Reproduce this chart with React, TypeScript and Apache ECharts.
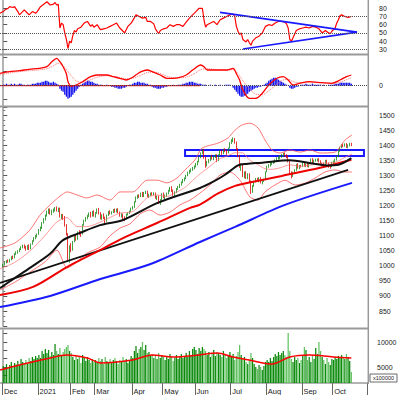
import React, { useEffect, useRef } from 'react';
import * as echarts from 'echarts';

// ---------- x axis (trading-day index) ----------
const monthTickIdx = [-0.5, 21.5, 41.5, 56.5, 79.5, 98.5, 118.5, 140.5, 162.5, 184.5, 203.5, 225];
const monthLabels = ['Dec', '2021', 'Feb', 'Mar', 'Apr', 'May', 'Jun', 'Jul', 'Aug', 'Sep', 'Oct', ''];

// ---------- price candles [open, close, low, high], one per trading day ----------
const candles = [
  [998,1003,994,1006],[1004,1010,1001,1013],[1011,1017,1008,1019],[1018,1015,1010,1021],[1015,1020,1011,1023],[1021,1030,1018,1032],
  [1031,1026,1022,1034],[1027,1040,1025,1042],[1041,1044,1036,1048],[1045,1049,1040,1052],[1050,1055,1046,1058],[1056,1062,1052,1065],
  [1063,1067,1058,1070],[1068,1063,1057,1071],[1062,1057,1050,1066],[1056,1067,1053,1069],[1068,1058,1052,1071],[1057,1072,1055,1074],
  [1073,1082,1070,1085],[1083,1092,1080,1095],[1093,1098,1088,1102],[1099,1103,1094,1107],
  [1105,1120,1103,1122],[1121,1125,1115,1130],[1126,1143,1122,1145],[1144,1156,1140,1158],[1157,1167,1150,1170],[1168,1180,1163,1183],
  [1181,1186,1172,1190],[1187,1176,1170,1190],[1175,1183,1168,1186],[1184,1185,1176,1190],[1186,1192,1180,1195],[1193,1185,1180,1197],
  [1184,1190,1178,1193],[1191,1166,1160,1193],[1165,1167,1155,1172],[1168,1162,1152,1172],[1160,1135,1130,1165],[1133,1107,1100,1138],
  [1105,1023,1018,1108],[1020,1066,1010,1068],
  [1068,1056,1045,1075],[1055,1080,1050,1082],[1082,1098,1078,1100],[1099,1088,1083,1104],[1089,1112,1086,1114],[1113,1110,1102,1118],
  [1111,1103,1096,1115],[1106,1136,1104,1138],[1137,1151,1133,1153],[1152,1159,1146,1162],[1160,1166,1154,1169],[1167,1174,1162,1177],
  [1175,1165,1160,1179],[1166,1180,1163,1182],[1181,1168,1163,1184],
  [1167,1175,1160,1178],[1176,1188,1172,1190],[1189,1175,1170,1192],[1174,1160,1154,1178],[1159,1169,1152,1171],[1170,1160,1155,1174],
  [1159,1152,1140,1163],[1150,1168,1146,1170],[1169,1179,1165,1182],[1180,1176,1170,1184],[1175,1178,1170,1181],[1179,1185,1175,1188],
  [1186,1180,1176,1190],[1181,1187,1177,1190],[1188,1178,1174,1191],[1177,1168,1163,1180],[1167,1170,1160,1174],[1171,1160,1155,1173],
  [1159,1158,1148,1164],[1157,1171,1154,1173],[1172,1175,1167,1178],[1176,1180,1172,1183],[1181,1191,1178,1193],
  [1192,1193,1186,1198],[1194,1212,1192,1214],[1213,1228,1210,1230],[1229,1232,1222,1236],[1233,1231,1225,1237],[1232,1240,1228,1243],
  [1241,1232,1228,1245],[1231,1242,1228,1245],[1243,1245,1238,1249],[1246,1232,1228,1249],[1231,1236,1225,1239],[1237,1240,1232,1243],
  [1241,1238,1233,1244],[1237,1240,1233,1244],[1241,1226,1222,1243],[1225,1230,1218,1233],[1231,1210,1205,1233],[1209,1218,1202,1221],
  [1219,1239,1216,1241],
  [1240,1229,1224,1243],[1228,1233,1220,1236],[1234,1240,1229,1243],[1241,1249,1237,1252],[1250,1260,1246,1262],[1261,1250,1245,1264],
  [1249,1240,1232,1253],[1239,1244,1230,1247],[1245,1256,1241,1258],[1257,1262,1252,1265],[1263,1270,1258,1272],[1271,1278,1266,1280],
  [1279,1285,1274,1288],[1286,1290,1280,1293],[1291,1300,1287,1302],[1301,1310,1297,1312],[1311,1315,1305,1318],[1316,1320,1310,1323],
  [1321,1325,1315,1328],[1326,1330,1320,1333],
  [1331,1338,1326,1341],[1339,1345,1333,1348],[1346,1360,1343,1362],[1361,1374,1357,1376],[1375,1383,1370,1386],[1384,1360,1355,1388],
  [1358,1336,1325,1362],[1337,1345,1330,1348],[1346,1350,1340,1354],[1351,1363,1347,1365],[1364,1357,1352,1368],[1356,1362,1350,1365],
  [1363,1366,1357,1370],[1367,1349,1344,1370],[1350,1368,1347,1370],[1369,1380,1365,1383],[1381,1374,1368,1385],[1375,1385,1370,1388],
  [1386,1383,1377,1390],[1382,1375,1368,1386],[1376,1390,1373,1392],[1391,1408,1389,1410],
  [1409,1415,1404,1420],[1416,1420,1410,1426],[1421,1410,1405,1424],[1409,1388,1383,1412],[1387,1367,1360,1390],[1366,1330,1325,1368],
  [1329,1335,1315,1340],[1334,1298,1294,1338],[1297,1310,1290,1313],[1311,1294,1288,1314],[1293,1304,1287,1307],[1305,1282,1277,1307],
  [1281,1250,1238,1283],[1248,1265,1242,1268],[1266,1280,1262,1282],[1281,1288,1276,1291],[1289,1283,1278,1292],[1282,1291,1277,1294],
  [1292,1278,1273,1294],[1277,1283,1270,1286],[1284,1285,1278,1289],[1286,1311,1284,1313],
  [1312,1330,1310,1332],[1331,1333,1325,1337],[1334,1338,1329,1341],[1339,1342,1334,1346],[1343,1345,1338,1349],[1346,1350,1340,1353],
  [1351,1357,1347,1360],[1358,1358,1352,1362],[1359,1362,1353,1366],[1363,1367,1358,1371],[1368,1371,1362,1375],[1372,1367,1361,1376],
  [1366,1363,1357,1370],[1364,1348,1343,1366],[1347,1310,1305,1350],[1309,1302,1290,1313],[1301,1310,1295,1312],[1311,1317,1306,1320],
  [1318,1336,1315,1338],[1337,1326,1322,1340],[1325,1331,1320,1334],[1332,1331,1326,1335],
  [1332,1339,1328,1342],[1340,1333,1329,1343],[1332,1337,1327,1340],[1338,1331,1327,1341],[1330,1341,1326,1344],[1342,1353,1339,1356],
  [1354,1345,1340,1357],[1344,1349,1339,1352],[1350,1351,1345,1355],[1352,1352,1346,1356],[1353,1348,1343,1357],[1347,1339,1334,1350],
  [1338,1338,1331,1342],[1339,1338,1332,1342],[1339,1348,1335,1351],[1349,1340,1336,1352],[1339,1331,1325,1342],[1330,1330,1322,1335],
  [1331,1342,1327,1345],
  [1343,1345,1338,1349],[1346,1352,1341,1355],[1353,1362,1349,1365],[1363,1380,1360,1382],[1381,1393,1378,1395],[1394,1400,1390,1403],
  [1401,1398,1393,1405],[1399,1402,1395,1406],[1403,1396,1391,1407],[1395,1400,1390,1403],[1401,1404,1396,1408],[1405,1402,1397,1408],
];

// ---------- volume (axis unit x100000), one per trading day ----------
const volumes = [
  5200,4800,5600,5000,5400,6000,5200,5800,5500,6200,5400,6600,6000,5800,6400,5600,6800,6200,7000,6600,7200,6800,
  7400,6800,8200,7600,8600,7800,8400,7200,8000,7400,9600,8200,7600,8800,7400,8000,8600,9000,9400,8200,
  7800,7000,6400,7200,6600,7000,5800,7400,6800,6200,7000,6400,5800,6600,6000,
  6400,5800,6800,6200,6600,5600,7000,6200,6000,6600,5800,6400,6800,6200,5600,6400,6000,7000,6200,6600,5800,6400,7200,
  6800,8200,9200,7800,8600,9000,10000,8400,9400,7800,8000,7200,7600,6800,7400,6600,7800,6800,7400,
  7000,6400,7200,6600,7600,7000,6200,6800,7400,6600,7000,7600,6800,7200,7800,7000,8200,7400,8600,9000,
  8400,7600,8800,8200,9000,8600,8200,7400,8000,7000,7600,8400,7200,8000,7800,7400,7000,8200,7600,6800,7200,8000,
  7000,7600,6400,7200,8000,9400,7400,6800,7000,6000,5600,6400,7800,6800,5600,5000,4600,5400,5000,4400,5200,6000,
  6400,6000,6800,6200,7000,7600,7200,8000,7400,7800,8200,7400,7000,11800,8200,6600,6000,7000,6400,6800,5800,6400,
  7200,9000,8400,6400,7000,6000,7400,6600,8800,7600,10000,8200,7000,6400,5600,6800,6000,5400,6600,
  6400,7000,6600,7200,6800,7400,7000,6600,7600,7000,6200,4000,
];
const volumeMA = [[-2,4400],[10,5400],[29,6800],[39,7400],[52,6800],[60,5800],[80,6400],[92,7400],[105,7000],[121,7400],
  [132,7800],[142,7000],[152,6400],[166,5600],[177,7000],[189,7400],[204,7000],[215,6800]];

// ---------- price overlays [index, price] ----------
const ma200 = [[-2,863],[29,900],[60,956],[90.6,1005],[121.5,1079],[143.2,1129],[174,1202],[215.4,1275]];
const ma100 = [[-2,903],[18.4,930],[39.4,996],[59.8,1052],[74,1092],[95,1142],[115.4,1192],[121.5,1203],[132.7,1240],
  [143.2,1265],[153.7,1278],[172,1298],[195.7,1325],[215,1352]];
const ma50 = [[-2,926],[7.3,960],[16.5,993],[28.9,1040],[36.9,1085],[47.4,1109],[59.8,1135],[74,1152],[95,1208],
  [121.5,1258],[130,1280],[137,1302],[145,1333],[150,1338],[160,1342],[177,1350],[190,1340],[200,1333],[207,1335],[215,1357]];
const trendLine = [[-2,943],[213,1318]];
const bbUpper = [[-2,1059],[7.3,1076],[16.5,1119],[22.7,1168],[28.9,1202],[35.1,1231],[39.4,1245],[45.6,1235],[51.7,1225],
  [57.9,1235],[65.9,1218],[72.1,1245],[80.1,1245],[88.8,1284],[95,1284],[101.1,1275],[107.3,1291],[112.3,1318],[118.4,1351],
  [122.8,1390],[132.7,1407],[138.8,1424],[143.2,1450],[147.5,1467],[152.4,1473],[157.4,1457],[161.7,1417],[166,1384],[171,1374],
  [177.1,1384],[183.3,1377],[189.5,1384],[195.7,1374],[204.9,1377],[211.1,1417],[215.4,1434]];
const bbLower = [[-2,920],[7.3,946],[16.5,979],[25.8,1013],[33.2,1052],[39.4,993],[45.6,1013],[51.7,1042],[59.8,1062],
  [65.9,1099],[72.1,1125],[78.3,1139],[84.5,1172],[90.6,1185],[96.8,1168],[103,1178],[109.2,1202],[115.4,1218],[121.5,1241],
  [127.7,1268],[133.9,1301],[140.1,1311],[146.2,1284],[152.4,1228],[157.4,1218],[161.7,1245],[167.9,1268],[174,1284],
  [180.2,1268],[186.4,1274],[192.6,1291],[198.7,1311],[204.9,1318],[211.1,1311],[215.4,1311]];
const bbMid = [[-2,990],[7,1011],[16.5,1049],[25.8,1100],[33,1145],[39.4,1160],[45.6,1130],[51.7,1130],[57.9,1140],
  [65.9,1160],[72.1,1175],[80.1,1180],[88.8,1225],[95,1235],[101.1,1230],[107.3,1245],[112.3,1260],[118.4,1290],[122.8,1310],
  [127.7,1330],[132.7,1352],[138.8,1365],[143.2,1375],[147.5,1375],[152.4,1350],[157.4,1335],[161.7,1322],[166,1320],
  [171,1325],[177.1,1335],[183.3,1330],[189.5,1334],[195.7,1340],[204.9,1343],[211.1,1360],[215.4,1370]];
const resistanceZone = { from: 112.3, to: 222.8, low: 1364, high: 1384 };

// ---------- RSI ----------
const rsi = [[-2,74],[0,76],[1,78],[3,80],[4,82],[6,81],[7,82],[9,76],[10,72],[12,76],[13,78],[15,74],[16,72],[18,76],[20,74],
  [21,76],[23,82],[25,85],[27,88],[29,84],[31,85],[32,87],[33,84],[34,85],[35,56],[36,62],[37,60],[38,50],[39,42],[40,31],[41,40],
  [42,38],[43,47],[44,53],[45,51],[46,55],[48,57],[50,62],[52,64],[54,58],[55,60],[56,57],[58,60],[60,54],[62,55],[64,56],[66,58],
  [68,60],[70,62],[72,56],[74,52],[75,50],[77,58],[79,62],[80,65],[82,72],[84,70],[86,68],[88,69],[89,64],[91,64],[93,61],[94,55],
  [96,49],[97,53],[99,55],[101,56],[103,60],[105,58],[107,60],[109,60],[111,58],[113,63],[115,68],[117,72],[119,76],[121,80],
  [123,80],[124,66],[125,57],[126,60],[128,62],[130,64],[132,60],[134,66],[136,68],[138,70],[140,72],[142,73],[143,70],[144,58],
  [145,52],[146,48],[147,50],[148,42],[150,39],[151,42],[152,38],[153,35],[154,40],[156,44],[158,46],[160,50],[162,58],[164,60],
  [166,59],[168,62],[170,64],[172,64],[174,63],[175,61],[176,56],[177,42],[178,40],[179,44],[181,53],[183,55],[185,56],[187,57],
  [189,56],[191,58],[193,57],[195,55],[197,50],[199,53],[201,50],[202,49],[203,52],[205,56],[206,62],[207,66],[208,71],[209,72],
  [211,70],[213,69],[215,70]];
const rsiTriUpper = [[133.9,75],[218.5,51]];
const rsiTriLower = [[148.1,30.4],[218.5,51]];
const rsiLevels = [70, 50, 30];
const rsiTicks = [30, 40, 50, 60, 70, 80];

// ---------- MACD ----------
const macdLine = [[-2,12.4],[4,14],[10,15],[16,16.4],[22,17.4],[27,19],[30,24],[33,27.4],[35,24],[37,19],[39,12],[40,4],[42,-0.3],
  [45,0.7],[49,4],[54,9],[58,10.7],[64,10.7],[68,9],[72,7.4],[76,5.7],[80,8.5],[83,12],[86,14.5],[89,15.7],[92,14],[97,10.7],
  [101,7.4],[105,7.4],[109,8.4],[113,10.7],[117,15.7],[122,20.7],[124,19],[126,15.7],[132,15.7],[138,15.7],[142,17.4],[144,12],
  [146,5.7],[148,-4.3],[152,-12.6],[156,-12.6],[160,-7.6],[164,0.7],[169,7.4],[173,9],[176,5.7],[179,0.7],[183,2.4],[189,4],
  [197,3],[203,2.4],[208,5.7],[212,9],[215,10.7]];
const macdSignal = [[-2,11],[5,13],[12,14.5],[20,15.5],[27,17],[31,20],[34,22.5],[37,20],[40,14],[43,8],[46,4],[50,3.5],[54,6],
  [58,8.5],[64,10],[70,9],[76,7],[80,7.5],[85,10.5],[90,13.5],[94,13.5],[98,11.5],[102,9],[106,8],[110,8],[114,9],[118,12],
  [122,16],[126,17],[132,16],[138,15.5],[142,16],[145,12],[148,5],[152,-3],[156,-8.5],[160,-9],[164,-5],[168,0],[172,5],
  [176,6.5],[179,4],[183,3],[189,3],[197,3],[203,2.5],[208,3.5],[212,6],[215,8]];
const macdHist = [
  1,1,2,1,1,2,1,2,1,1,2,2,1,1,0,1,
  1,1,2,2,2,3,
  3,3,4,4,5,5,4,3,3,4,
  3,2,1,
  -3,-5,-6,-9,-11,-13,-12,-11,-9,-7,-5,-3,-1,
  1,2,3,4,5,5,4,4,3,2,2,1,1,
  1,0,0,1,0,0,-1,
  -1,-2,-2,-3,-3,-3,-2,-2,-1,0,
  1,1,2,3,3,4,4,3,3,3,2,2,1,1,
  -1,-2,-2,-3,-3,-3,-2,-2,-1,-1,0,
  0,0,1,0,0,1,1,1,2,
  2,3,3,4,4,4,3,3,2,2,2,1,1,1,
  0,0,1,0,0,1,0,0,1,0,0,1,1,1,1,
  0,-2,-4,-6,-8,-10,-11,-11,-10,-9,-8,-6,-5,-4,-3,-2,-2,-1,-1,0,
  1,2,3,5,6,7,8,8,7,6,5,4,3,2,1,0,
  -2,-3,-3,-2,-1,-1,
  0,1,1,1,2,1,1,1,2,1,1,1,1,1,0,1,0,0,1,1,1,1,2,2,2,
  3,3,3,3,3,3,3,2,
];
const macdZeroRed = [[-2,0],[121.5,0]];

const FONT = '"Liberation Sans", Arial, sans-serif';
const AXIS_GREY = '#9a9a9a';
const plain = (v: number) => String(v);

export default function App() {
  const ref = useRef<HTMLDivElement>(null);

  useEffect(() => {
    if (!ref.current) return;
    const chart = echarts.init(ref.current, undefined, { renderer: 'svg' });

    const grids = [
      { left: 0, right: 32, top: 0, height: 54 },
      { left: 0, right: 32, top: 55, height: 51 },
      { left: 0, right: 32, top: 107.5, height: 218.6 },
      { left: 0, right: 32, top: 330, height: 53 },
    ];

    const xAxes = grids.map((_, gi) => ({
      type: 'value',
      gridIndex: gi,
      min: -2,
      max: 225.3,
      show: gi === 3,
      splitLine: { show: false },
      axisLine: { show: gi === 3, lineStyle: { color: AXIS_GREY, width: 1.5 } },
      axisTick: {
        show: gi === 3,
        customValues: monthTickIdx,
        length: 12,
        lineStyle: { color: '#666', width: 1 },
      },
      axisLabel: {
        show: gi === 3,
        customValues: monthTickIdx,
        formatter: (v: number) => {
          const k = monthTickIdx.indexOf(v);
          return k >= 0 ? monthLabels[k] : '';
        },
        align: 'left',
        padding: [0, 0, 0, 1.5],
        margin: 4,
        fontSize: 7.5,
        color: '#222',
        fontFamily: FONT,
      },
    }));

    const label = (extra: any = {}) => ({ margin: 11, fontSize: 7, color: '#222', fontFamily: FONT, formatter: plain, ...extra });
    const tick = (extra: any = {}) => ({ show: true, length: 4, lineStyle: { color: '#555' }, ...extra });
    const baseY = (gi: number) => ({
      type: 'value',
      gridIndex: gi,
      position: 'right',
      splitLine: { show: false },
      axisLine: { show: true, lineStyle: { color: AXIS_GREY, width: 1.5 } },
    });

    const yAxes = [
      { ...baseY(0), min: 24.3, max: 90.1, axisTick: tick({ customValues: rsiTicks }), axisLabel: label({ customValues: rsiTicks }) },
      { ...baseY(1), min: -20.3, max: 30.7, axisTick: tick({ customValues: [-14, 0, 14, 28] }), axisLabel: label({ customValues: [0] }) },
      {
        ...baseY(2), min: 800, max: 1525, interval: 50,
        axisTick: tick(),
        minorTick: { show: true, splitNumber: 3, length: 2, lineStyle: { color: '#777' } },
        axisLabel: label({ showMinLabel: false, showMaxLabel: false }),
      },
      {
        ...baseY(3), min: 1800, max: 12400,
        axisTick: tick({ customValues: [3333, 5000, 6667, 8333, 10000, 11667] }),
        axisLabel: label({ margin: 9, customValues: [5000, 10000] }),
      },
    ];

    const line = (name: string, gi: number, data: number[][], color: string, width: number, extra: any = {}) => ({
      name,
      type: 'line',
      xAxisIndex: gi,
      yAxisIndex: gi,
      data,
      showSymbol: false,
      symbol: 'none',
      silent: true,
      lineStyle: { color, width, ...(extra.lineStyle || {}) },
      itemStyle: { color },
      ...Object.fromEntries(Object.entries(extra).filter(([k]) => k !== 'lineStyle')),
    });

    const series: any[] = [
      // RSI
      line('RSI', 0, rsi, '#ff0000', 1.2, {
        markLine: {
          silent: true, symbol: 'none', label: { show: false },
          lineStyle: { type: 'dotted', color: '#555', width: 1 },
          data: rsiLevels.map((v) => ({ yAxis: v })),
        },
      }),
      line('RSI trend upper', 0, rsiTriUpper, '#1a1aff', 1.6),
      line('RSI trend lower', 0, rsiTriLower, '#1a1aff', 1.6),
      // MACD
      {
        name: 'MACD hist', type: 'bar', xAxisIndex: 1, yAxisIndex: 1, silent: true,
        data: macdHist.map((v, i) => [i, v]),
        barWidth: 1.3,
        itemStyle: { color: '#1010ee' },
        markLine: {
          silent: true, symbol: 'none', label: { show: false },
          lineStyle: { type: 'dotted', color: '#444', width: 1 },
          data: [{ yAxis: 0 }],
        },
      },
      line('MACD zero', 1, macdZeroRed, '#ff0000', 1),
      line('Signal', 1, macdSignal, '#ff7070', 1, { smooth: 0.3, lineStyle: { type: 'dotted' } }),
      line('MACD', 1, macdLine, '#ff0000', 1.3, { smooth: 0.3 }),
      // Price
      line('MA200', 2, ma200, '#1a1aff', 2, { smooth: 0.3 }),
      line('BB upper', 2, bbUpper, '#ff5050', 0.8, { smooth: 0.25 }),
      line('BB lower', 2, bbLower, '#ff5050', 0.8, { smooth: 0.25 }),
      line('BB mid', 2, bbMid, '#ff7070', 0.7, { smooth: 0.25 }),
      line('Trend', 2, trendLine, '#111111', 1.8, {
        markArea: {
          silent: true,
          itemStyle: { color: 'rgba(0,0,0,0)', borderColor: '#1a1aff', borderWidth: 2 },
          data: [[
            { xAxis: resistanceZone.from, yAxis: resistanceZone.high },
            { xAxis: resistanceZone.to, yAxis: resistanceZone.low },
          ]],
        },
      }),
      line('MA100', 2, ma100, '#ee0000', 2, { smooth: 0.3 }),
      line('MA50', 2, ma50, '#111111', 2, { smooth: 0.3 }),
      {
        name: 'Price', type: 'candlestick', xAxisIndex: 2, yAxisIndex: 2, silent: true,
        data: candles.map((c, i) => [i, c[0], c[1], c[2], c[3]]),
        encode: { x: 0, y: [1, 2, 3, 4] },
        barWidth: 1.3,
        itemStyle: {
          color: '#33b333', color0: '#ee0000',
          borderColor: '#128a12', borderColor0: '#dd0000', borderWidth: 0.8,
        },
      },
      // Volume
      {
        name: 'Volume', type: 'bar', xAxisIndex: 3, yAxisIndex: 3, silent: true,
        barWidth: 1.25,
        data: volumes.map((v, i) => ({
          value: [i, v],
          itemStyle: { color: candles[i][1] >= candles[i][0] ? '#0a8a0a' : '#62c262' },
        })),
      },
      line('Volume MA', 3, volumeMA, '#ff0000', 1.5, { smooth: 0.35 }),
    ];

    const sep = (y: number) => ({
      type: 'line', z: 100, silent: true,
      shape: { x1: 0, y1: y, x2: 368, y2: y },
      style: { stroke: AXIS_GREY, lineWidth: 2 },
    });

    chart.setOption({
      animation: false,
      backgroundColor: '#ffffff',
      textStyle: { fontFamily: FONT },
      grid: grids,
      xAxis: xAxes,
      yAxis: yAxes,
      series,
      graphic: [
        sep(54.5), sep(106.5), sep(328.5),
        { type: 'line', z: 100, silent: true, shape: { x1: 368.3, y1: 0, x2: 368.3, y2: 384 }, style: { stroke: AXIS_GREY, lineWidth: 1.5 } },
        { type: 'rect', z: 100, silent: true, shape: { x: 370, y: 374, width: 27, height: 8 }, style: { fill: '#fff', stroke: '#444', lineWidth: 0.8 } },
        { type: 'text', z: 101, silent: true, x: 383.5, y: 378.3, style: { text: 'x100000', fontSize: 5.5, fill: '#222', align: 'center', verticalAlign: 'middle', fontFamily: FONT } },
      ],
    });

    return () => chart.dispose();
  }, []);

  return (
    <div
      ref={ref}
      style={{ position: 'fixed', left: 0, top: 0, width: 400, height: 395, background: '#fff' }}
    />
  );
}
